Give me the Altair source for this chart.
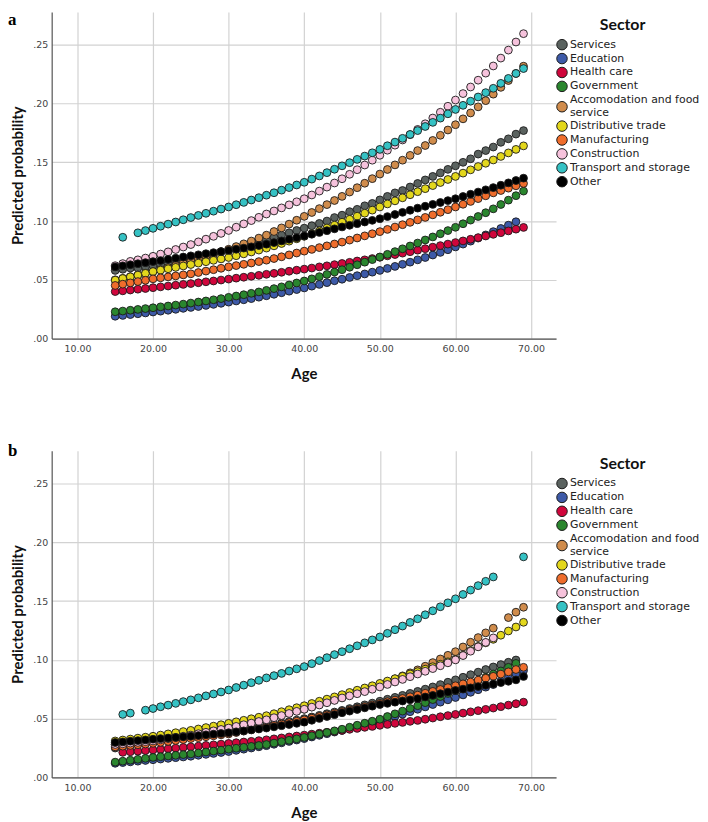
import altair as alt
import pandas as pd

AGES = list(range(15, 70))

SECTORS = ["Services", "Education", "Health care", "Government",
           "Accomodation and food service", "Distributive trade",
           "Manufacturing", "Construction", "Transport and storage", "Other"]
COLORS = ["#5a625f", "#3d5aa8", "#d0063c", "#2a862e", "#d08c4c",
          "#e3d71c", "#ef6d2c", "#f6c2dc", "#35c2c4", "#000000"]

# ---------------- panel a (ages 15..69) ----------------
a_services = [.058, .059, .060, .060, .061, .062, .063, .064, .066, .067,
              .068, .069, .071, .072, .074, .075, .077, .079, .080, .082,
              .084, .086, .088, .090, .092, .094, .096, .098, .100, .103,
              .105, .108, .110, .113, .115, .118, .121, .124, .126, .129,
              .132, .135, .138, .141, .144, .147, .150, .153, .157, .160,
              .163, .167, .170, .174, .177]
a_education = [.0190, .0197, .0204, .0211, .0218, .0226, .0233, .0241, .0249, .0257,
               .0265, .0273, .0282, .0291, .0300, .0310, .0320, .0330, .0340, .0352,
               .0364, .0377, .0390, .0403, .0417, .0431, .0446, .0461, .0476, .0492,
               .0505, .0520, .0535, .0550, .0565, .0580, .0597, .0614, .0632, .0650,
               .0670, .0690, .0711, .0733, .0756, .0780, .0804, .0829, .0855, .0882,
               .0910, .0937, .0965, .0994, None]
a_health = [.0400, .0406, .0413, .0420, .0426, .0433, .0440, .0447, .0454, .0461,
            .0468, .0475, .0483, .0490, .0498, .0506, .0514, .0522, .0530, .0538,
            .0547, .0555, .0564, .0573, .0582, .0591, .0600, .0610, .0619, .0629,
            .0639, .0649, .0660, .0670, .0681, .0692, .0704, .0715, .0727, .0739,
            .0752, .0765, .0778, .0791, .0804, .0817, .0831, .0845, .0859, .0873,
            .0887, .0901, .0916, .0931, .0946]
a_government = [.0228, .0234, .0241, .0248, .0255, .0262, .0270, .0277, .0285, .0293,
                .0302, .0311, .0320, .0330, .0340, .0351, .0362, .0373, .0385, .0397,
                .0410, .0425, .0440, .0456, .0473, .0490, .0508, .0527, .0546, .0566,
                .0586, .0607, .0628, .0650, .0672, .0694, .0717, .0740, .0764, .0788,
                .0813, .0839, .0865, .0892, .0919, .0947, .0977, .1008, .1039, .1071,
                .1104, .1141, .1178, .1216, .1255]
a_accommodation = [.0500, .0513, .0527, .0541, .0555, .0570, .0587, .0604, .0622, .0641,
                   .0660, .0679, .0698, .0718, .0739, .0760, .0783, .0806, .0830, .0855,
                   .0880, .0911, .0942, .0974, .1007, .1040, .1073, .1106, .1140, .1175,
                   .1210, .1247, .1284, .1322, .1361, .1400, .1439, .1478, .1518, .1559,
                   .1600, .1643, .1686, .1730, .1775, .1820, .1870, .1920, .1972, .2025,
                   .2080, .2138, .2196, .2256, .2318]
a_distributive = [.0497, .0511, .0525, .0540, .0555, .0570, .0582, .0594, .0606, .0618,
                  .0630, .0642, .0654, .0666, .0678, .0690, .0705, .0721, .0737, .0753,
                  .0770, .0789, .0809, .0829, .0849, .0870, .0893, .0917, .0941, .0965,
                  .0990, .1015, .1041, .1067, .1093, .1120, .1146, .1172, .1198, .1224,
                  .1250, .1276, .1302, .1328, .1354, .1380, .1408, .1436, .1464, .1492,
                  .1520, .1550, .1580, .1610, .1640]
a_manufacturing = [.0452, .0463, .0474, .0485, .0496, .0508, .0517, .0525, .0533, .0542,
                   .0551, .0562, .0574, .0586, .0598, .0610, .0621, .0632, .0643, .0655,
                   .0667, .0681, .0696, .0712, .0728, .0744, .0759, .0774, .0789, .0805,
                   .0821, .0838, .0856, .0874, .0892, .0910, .0929, .0949, .0969, .0989,
                   .1010, .1031, .1053, .1075, .1097, .1120, .1143, .1167, .1191, .1215,
                   .1240, .1260, .1280, .1300, .1320]
a_construction = [.0620, .0638, .0657, .0670, .0685, .0700, .0719, .0738, .0758, .0779,
                  .0800, .0823, .0846, .0870, .0895, .0920, .0948, .0976, .1004, .1032,
                  .1060, .1086, .1112, .1138, .1164, .1190, .1222, .1255, .1289, .1324,
                  .1360, .1398, .1437, .1477, .1518, .1560, .1603, .1646, .1690, .1735,
                  .1780, .1828, .1877, .1926, .1977, .2030, .2085, .2141, .2199, .2259,
                  .2320, .2387, .2455, .2524, .2595]
a_transport = [None, .0862, None, .0900, .0919, .0938, .0956, .0974, .0992, .1011,
               .1030, .1048, .1066, .1084, .1102, .1120, .1139, .1159, .1179, .1199,
               .1220, .1241, .1263, .1285, .1307, .1330, .1357, .1384, .1412, .1441,
               .1470, .1497, .1525, .1553, .1581, .1610, .1641, .1672, .1704, .1737,
               .1770, .1805, .1840, .1876, .1913, .1950, .1985, .2020, .2056, .2093,
               .2130, .2172, .2214, .2256, .2298]
a_other = [.0610, .0619, .0628, .0637, .0646, .0655, .0664, .0674, .0684, .0694,
           .0704, .0713, .0722, .0731, .0740, .0750, .0760, .0770, .0781, .0792,
           .0803, .0817, .0831, .0845, .0859, .0873, .0888, .0903, .0918, .0934,
           .0950, .0964, .0978, .0992, .1006, .1020, .1038, .1056, .1074, .1092,
           .1110, .1126, .1142, .1158, .1174, .1190, .1209, .1228, .1247, .1266,
           .1285, .1305, .1325, .1345, .1365]

# ---------------- panel b (ages 15..69) ----------------
b_services = [.0250, .0260, .0270, .0280, .0290, .0300, .0308, .0316, .0324, .0332,
              .0340, .0350, .0360, .0370, .0380, .0390, .0400, .0410, .0420, .0430,
              .0440, .0452, .0464, .0476, .0488, .0500, .0514, .0528, .0542, .0556,
              .0570, .0586, .0601, .0617, .0632, .0648, .0665, .0681, .0698, .0715,
              .0732, .0751, .0770, .0790, .0810, .0830, .0852, .0874, .0896, .0918,
              .0940, .0960, .0980, .0999, None]
b_education = [.0120, .0126, .0132, .0138, .0144, .0150, .0156, .0162, .0168, .0174,
               .0180, .0188, .0196, .0204, .0212, .0220, .0230, .0240, .0250, .0260,
               .0270, .0282, .0294, .0306, .0318, .0330, .0344, .0358, .0372, .0386,
               .0400, .0416, .0432, .0448, .0464, .0480, .0499, .0518, .0538, .0559,
               .0580, .0600, .0620, .0640, .0660, .0680, .0702, .0724, .0746, .0768,
               .0790, .0820, .0850, .0880, .0910]
b_health = [None, .0213, .0218, .0223, .0228, .0233, .0238, .0244, .0249, .0255,
            .0260, .0266, .0272, .0277, .0283, .0289, .0295, .0301, .0307, .0313,
            .0320, .0328, .0336, .0344, .0352, .0360, .0368, .0376, .0384, .0392,
            .0400, .0409, .0417, .0426, .0434, .0443, .0451, .0460, .0468, .0477,
            .0485, .0495, .0505, .0516, .0526, .0536, .0547, .0558, .0568, .0579,
            .0590, .0602, .0615, .0627, .0640]
b_government = [.0130, .0138, .0146, .0154, .0162, .0170, .0176, .0182, .0188, .0194,
                .0200, .0208, .0216, .0224, .0232, .0240, .0248, .0256, .0264, .0272,
                .0280, .0292, .0304, .0316, .0328, .0340, .0354, .0368, .0382, .0396,
                .0410, .0427, .0444, .0461, .0478, .0495, .0518, .0541, .0564, .0587,
                .0610, .0636, .0662, .0688, .0714, .0740, .0768, .0796, .0824, .0852,
                .0880, .0906, .0937, .0970, None]
b_accommodation = [.0280, .0288, .0296, .0304, .0312, .0320, .0330, .0340, .0350, .0360,
                   .0370, .0382, .0394, .0406, .0418, .0430, .0444, .0458, .0472, .0486,
                   .0500, .0516, .0532, .0548, .0564, .0580, .0600, .0620, .0640, .0660,
                   .0680, .0702, .0723, .0745, .0766, .0788, .0813, .0839, .0864, .0890,
                   .0915, .0946, .0977, .1008, .1039, .1070, .1110, .1150, .1190, .1230,
                   .1270, None, .1360, .1406, .1448]
b_distributive = [.0310, .0318, .0326, .0334, .0342, .0350, .0360, .0370, .0380, .0390,
                  .0400, .0412, .0424, .0436, .0448, .0460, .0473, .0486, .0499, .0512,
                  .0525, .0542, .0559, .0576, .0593, .0610, .0629, .0648, .0666, .0685,
                  .0704, .0723, .0742, .0761, .0780, .0800, .0820, .0840, .0860, .0880,
                  .0900, .0921, .0942, .0963, .0984, .1005, .1040, .1080, .1115, .1145,
                  .1175, .1210, .1246, .1280, .1320]
b_manufacturing = [.0260, .0266, .0272, .0278, .0284, .0290, .0298, .0306, .0314, .0322,
                   .0330, .0338, .0346, .0354, .0362, .0370, .0382, .0394, .0406, .0418,
                   .0430, .0442, .0454, .0466, .0478, .0490, .0504, .0518, .0532, .0546,
                   .0560, .0574, .0588, .0602, .0616, .0630, .0644, .0658, .0672, .0686,
                   .0700, .0716, .0732, .0748, .0764, .0780, .0796, .0812, .0828, .0844,
                   .0860, .0879, .0898, .0918, .0937]
b_construction = [.0280, .0286, .0292, .0298, .0304, .0310, .0320, .0330, .0340, .0350,
                  .0360, .0372, .0384, .0396, .0408, .0420, .0434, .0448, .0462, .0476,
                  .0490, .0508, .0526, .0544, .0562, .0580, .0598, .0616, .0635, .0655,
                  .0676, .0694, .0712, .0730, .0750, .0770, .0791, .0812, .0834, .0857,
                  .0880, .0903, .0926, .0950, .0975, .1000, .1037, .1074, .1111, .1149,
                  .1187, None, None, None, None]
b_transport = [None, .0536, .0547, None, .0572, .0586, .0601, .0615, .0630, .0645,
               .0660, .0677, .0694, .0710, .0727, .0744, .0765, .0785, .0806, .0826,
               .0847, .0866, .0885, .0905, .0924, .0943, .0968, .0994, .1019, .1045,
               .1070, .1095, .1120, .1145, .1170, .1195, .1226, .1257, .1288, .1319,
               .1350, .1384, .1418, .1452, .1486, .1520, .1557, .1594, .1632, .1669,
               .1706, None, None, None, .1877]
b_other = [.0297, .0302, .0308, .0313, .0319, .0325, .0330, .0335, .0340, .0345,
           .0350, .0356, .0362, .0368, .0374, .0380, .0388, .0396, .0404, .0412,
           .0420, .0430, .0440, .0450, .0460, .0470, .0486, .0502, .0518, .0534,
           .0550, .0564, .0578, .0592, .0606, .0620, .0630, .0640, .0650, .0660,
           .0670, .0684, .0698, .0712, .0726, .0740, .0751, .0762, .0773, .0784,
           .0795, .0807, .0818, .0830, .0859]

PANEL_A = [a_services, a_education, a_health, a_government, a_accommodation,
           a_distributive, a_manufacturing, a_construction, a_transport, a_other]
PANEL_B = [b_services, b_education, b_health, b_government, b_accommodation,
           b_distributive, b_manufacturing, b_construction, b_transport, b_other]

X_TICKS = [10, 20, 30, 40, 50, 60, 70]
Y_TICKS = [0, 0.05, 0.10, 0.15, 0.20, 0.25]
X_DOMAIN = [6.6, 73.3]
Y_DOMAIN = [0, 0.278]
LONG_LABEL = ("Accomodation and food", "service")

W, H = 508, 329


def frame(series_list):
    rows = []
    for k, (name, vals) in enumerate(zip(SECTORS, series_list)):
        for age, v in zip(AGES, vals):
            if v is not None:
                rows.append({"Sector": name, "Age": age, "p": v, "k": k})
    return pd.DataFrame(rows)


def px_to_p(ypx):
    # convert a pixel offset from the plot top into the y data unit
    return Y_DOMAIN[1] * (1 - ypx / H)


def legend_frames():
    step, first, gap = 14, 33, 12
    sym, txt = [], []
    for i, s in enumerate(SECTORS):
        if i < 4:
            yc = first + step * i
        elif i == 4:
            yc = first + step * 4 + 6.5
        else:
            yc = first + step * i + gap
        sym.append({"Sector": s, "ly": px_to_p(yc)})
        if s == SECTORS[4]:
            y0 = first + step * 4
            txt.append({"line": LONG_LABEL[0], "ly": px_to_p(y0)})
            txt.append({"line": LONG_LABEL[1], "ly": px_to_p(y0 + 13)})
        else:
            txt.append({"line": s, "ly": px_to_p(yc)})
    return pd.DataFrame(sym), pd.DataFrame(txt)


COLOR_SCALE = alt.Scale(domain=SECTORS, range=COLORS)


def panel(series_list, letter, label_dy):
    df = frame(series_list)
    yscale = alt.Scale(domain=Y_DOMAIN, nice=False)
    pts = alt.Chart(df).mark_circle(
        size=62, opacity=1, stroke="#1b1b1b", strokeWidth=0.9
    ).encode(
        x=alt.X("Age:Q",
                scale=alt.Scale(domain=X_DOMAIN, nice=False, zero=False),
                axis=alt.Axis(values=X_TICKS, format=".2f", title="Age",
                              labelPadding=5, titlePadding=14)),
        y=alt.Y("p:Q", scale=yscale,
                axis=alt.Axis(values=Y_TICKS, title="Predicted probability",
                              labelExpr="replace(format(datum.value, '.2f'), '0.', '.')",
                              labelPadding=4, titlePadding=7)),
        color=alt.Color("Sector:N", scale=COLOR_SCALE, legend=None),
        order=alt.Order("k:Q"),
    )
    lab = alt.Chart(pd.DataFrame({"t": [letter]})).mark_text(
        font="Liberation Serif", fontWeight="bold", fontSize=17,
        align="left", baseline="top", color="#000"
    ).encode(text="t:N", x=alt.value(-44), y=alt.value(label_dy))

    sym_df, txt_df = legend_frames()
    leg_sym = alt.Chart(sym_df).mark_circle(
        size=112, opacity=1, stroke="#1b1b1b", strokeWidth=1
    ).encode(
        x=alt.value(W + 6),
        y=alt.Y("ly:Q", scale=yscale),
        color=alt.Color("Sector:N", scale=COLOR_SCALE, legend=None),
    )
    leg_txt = alt.Chart(txt_df).mark_text(
        font="DejaVu Sans", fontSize=11, align="left", baseline="middle",
        color="#222222"
    ).encode(
        x=alt.value(W + 14),
        y=alt.Y("ly:Q", scale=yscale),
        text="line:N",
    )
    leg_title = alt.Chart(pd.DataFrame({"t": ["Sector"], "ly": [px_to_p(13)]})).mark_text(
        font="Lato", fontWeight="bold", fontSize=16, align="center",
        baseline="middle", color="#111111"
    ).encode(
        x=alt.value(W + 67),
        y=alt.Y("ly:Q", scale=yscale),
        text="t:N",
    )
    return alt.layer(pts, lab, leg_sym, leg_txt, leg_title).properties(width=W, height=H)


chart = alt.vconcat(
    panel(PANEL_A, "a", 0), panel(PANEL_B, "b", -8), spacing=60
).properties(
    padding={"left": 0, "top": 0, "right": 0, "bottom": 0}
).configure_view(stroke=None).configure_axis(
    domainColor="#555555", domainWidth=1.2,
    grid=True, gridColor="#d2d2d2", gridWidth=1.2,
    ticks=False,
    labelColor="#444444", labelFont="DejaVu Sans", labelFontSize=9.5,
    titleFont="Lato", titleFontWeight="bold", titleFontSize=15, titleColor="#111111",
)

chart.save("out.html", embed_options={"renderer": "svg", "actions": False})
